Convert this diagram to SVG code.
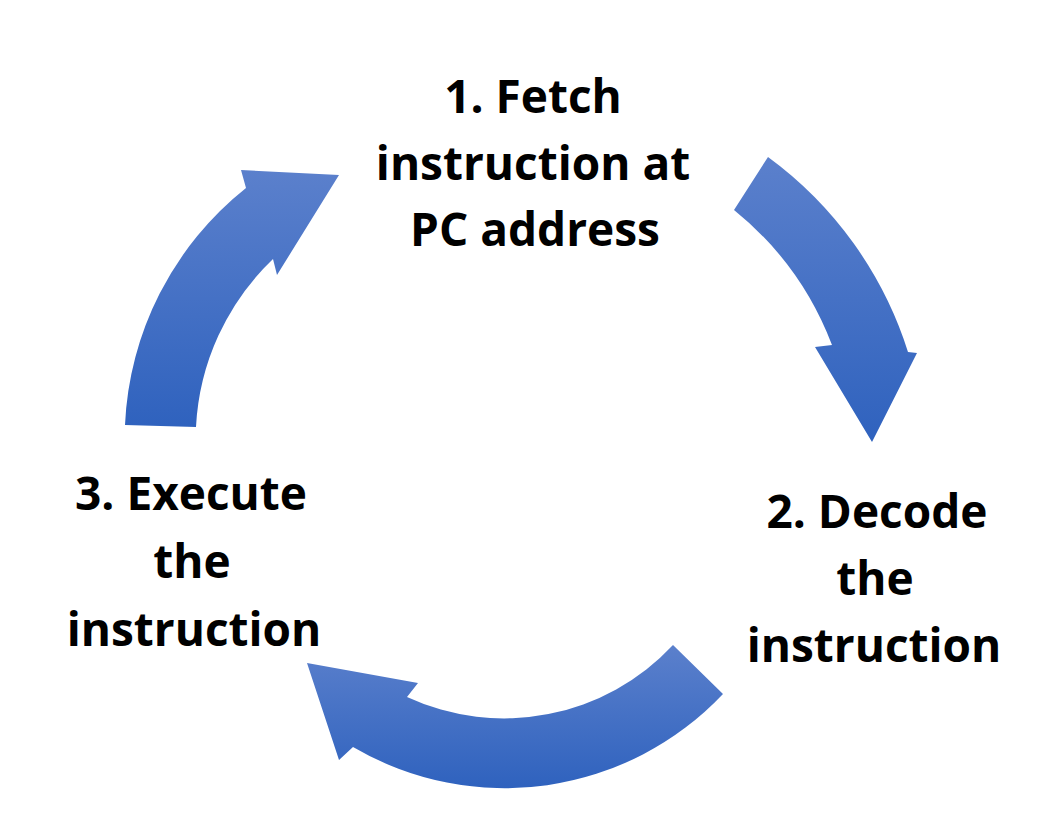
<svg xmlns="http://www.w3.org/2000/svg" width="1041" height="820" viewBox="0 0 1041 820">
  <defs>
    <linearGradient id="arrowGrad" x1="0" y1="0" x2="0" y2="1">
      <stop offset="0" stop-color="#5b80cc"/>
      <stop offset="1" stop-color="#2f62be"/>
    </linearGradient>
  </defs>
  <style>
    .arrow { fill: url(#arrowGrad); stroke: none; }
    .label { font-family: "Open Sans", "Liberation Sans", sans-serif; font-weight: 700; font-size: 46px; fill: #000000; text-anchor: middle; }
  </style>
  <rect width="1041" height="820" fill="#ffffff"/>
  <g id="connectors">
    <path id="arrow-fetch-decode" class="arrow" d="M 768,157 A 385 385 0 0 1 908,352 L 917,353 L 872,442 L 815,347 L 832,345 A 320 320 0 0 0 734,210 Z"/>
    <path id="arrow-decode-execute" class="arrow" d="M 723,694 A 300 300 0 0 1 353,747 L 339,760 L 307,663 L 418,683 L 407,697 A 231 231 0 0 0 673,645 Z"/>
    <path id="arrow-execute-fetch" class="arrow" d="M 125,425 A 321 321 0 0 1 246,188 L 241,170 L 339,175 L 277,275 L 273,259 A 250 250 0 0 0 196,427 Z"/>
  </g>
  <g id="node-fetch">
    <text class="label" x="533" y="113">1. Fetch</text>
    <text class="label" x="533" y="180">instruction at</text>
    <text class="label" x="535" y="246">PC address</text>
  </g>
  <g id="node-decode">
    <text class="label" x="877" y="528">2. Decode</text>
    <text class="label" x="875" y="595">the</text>
    <text class="label" x="874" y="662">instruction</text>
  </g>
  <g id="node-execute">
    <text class="label" x="191" y="510">3. Execute</text>
    <text class="label" x="192" y="578">the</text>
    <text class="label" x="194" y="646">instruction</text>
  </g>
</svg>
